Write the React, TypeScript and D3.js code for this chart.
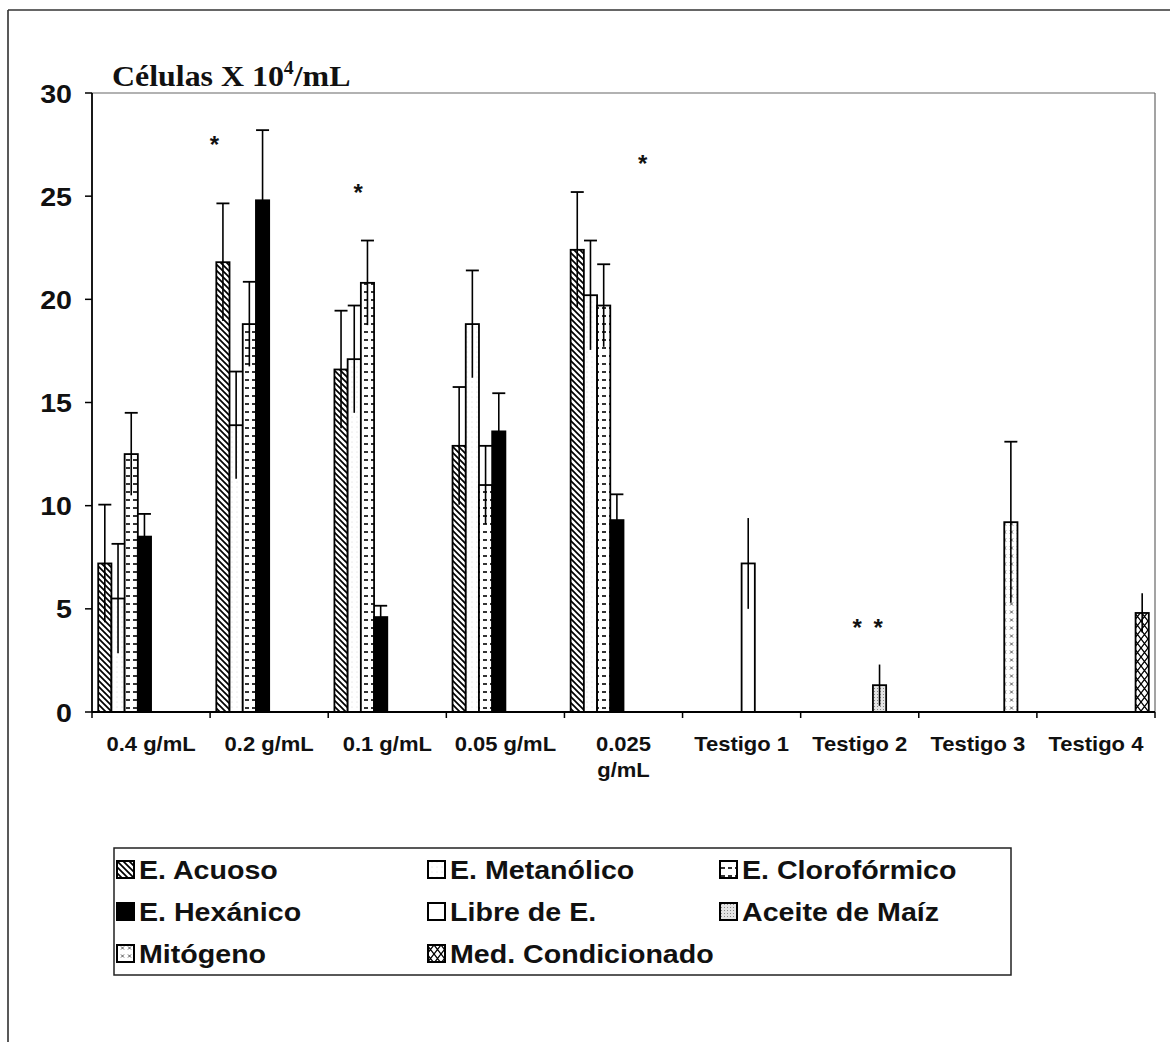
import React from "react";
import * as d3 from "d3";

const categories = [
  "0.4 g/mL",
  "0.2 g/mL",
  "0.1 g/mL",
  "0.05 g/mL",
  "0.025 g/mL",
  "Testigo 1",
  "Testigo 2",
  "Testigo 3",
  "Testigo 4",
];

const seriesNames = [
  "E. Acuoso",
  "E. Metanólico",
  "E. Clorofórmico",
  "E. Hexánico",
  "Libre de E.",
  "Aceite de Maíz",
  "Mitógeno",
  "Med. Condicionado",
];

const N = null;
const acuoso = [7.2, 21.8, 16.6, 12.9, 22.4, N, N, N, N];
const acuosoSD = [2.85, 2.85, 2.85, 2.85, 2.8, N, N, N, N];
const metanolico = [5.5, 13.9, 17.1, 18.8, 20.2, N, N, N, N];
const metanolicoSD = [2.65, 2.6, 2.6, 2.6, 2.65, N, N, N, N];
const cloroformico = [12.5, 18.8, 20.8, 11.0, 19.7, N, N, N, N];
const cloroformicoSD = [2.0, 2.05, 2.05, 1.9, 2.0, N, N, N, N];
const hexanico = [8.5, 24.8, 4.6, 13.6, 9.3, N, N, N, N];
const hexanicoSD = [1.1, 3.4, 0.55, 1.85, 1.25, N, N, N, N];
const libre = [N, N, N, N, N, 7.2, N, N, N];
const libreSD = [N, N, N, N, N, 2.2, N, N, N];
const aceite = [N, N, N, N, N, N, 1.3, N, N];
const aceiteSD = [N, N, N, N, N, N, 1.0, N, N];
const mitogeno = [N, N, N, N, N, N, N, 9.2, N];
const mitogenoSD = [N, N, N, N, N, N, N, 3.9, N];
const medCond = [N, N, N, N, N, N, N, N, 4.8];
const medCondSD = [N, N, N, N, N, N, N, N, 0.95];

const seriesValues = [acuoso, metanolico, cloroformico, hexanico, libre, aceite, mitogeno, medCond];
const seriesSD = [acuosoSD, metanolicoSD, cloroformicoSD, hexanicoSD, libreSD, aceiteSD, mitogenoSD, medCondSD];

const yTicks = [0, 5, 10, 15, 20, 25, 30];

// significance marks: category index, position in series slots, value
const markCats = [1, 2, 4, 6, 6];
const markSlots = [-0.65, 1.3, 4.95, 3.3, 4.9];
const markValues = [27.7, 25.4, 26.8, 4.3, 4.3];

const noCap = new Set(["Libre de E.", "Aceite de Maíz", "Med. Condicionado"]);
const patternIds = ["pAcu", "pMet", "pClo", "pHex", "pLib", "pAce", "pMit", "pMed"];

const SANS = "'Liberation Sans', Arial, sans-serif";
const SERIF = "'Liberation Serif', 'Times New Roman', serif";
const SX = 1.1; // horizontal stretch of the scanned lettering

export default function App() {
  const W = 1175;
  const H = 1042;
  const x0 = 92;
  const x1 = 1155;
  const yTop = 93;
  const yBot = 712;

  const xCat = d3.scaleBand<string>().domain(categories).range([x0, x1]).padding(0);
  const xSub = d3
    .scaleBand<string>()
    .domain(seriesNames)
    .range([0, xCat.bandwidth()])
    .paddingInner(0)
    .paddingOuter(0.47);
  const y = d3.scaleLinear().domain([0, 30]).range([yBot, yTop]);
  const bw = xSub.bandwidth();

  const bars: any[] = [];
  const errs: any[] = [];
  seriesNames.forEach((s, si) => {
    seriesValues[si].forEach((v, ci) => {
      if (v == null) return;
      const bx = (xCat(categories[ci]) as number) + (xSub(s) as number);
      bars.push(
        <rect
          key={`b${si}-${ci}`}
          x={bx}
          y={y(v)}
          width={bw}
          height={y(0) - y(v)}
          fill={si === 3 ? "#000" : `url(#${patternIds[si]})`}
          stroke="#000"
          strokeWidth={1.8}
        />
      );
      const sd = seriesSD[si][ci] as number;
      const cx = bx + bw / 2;
      errs.push(
        <line
          key={`e${si}-${ci}`}
          x1={cx}
          x2={cx}
          y1={y(Math.max(0, v - sd))}
          y2={y(v + sd)}
          stroke="#000"
          strokeWidth={1.6}
        />
      );
      if (!noCap.has(s)) {
        errs.push(
          <line
            key={`c${si}-${ci}`}
            x1={cx - 6.5}
            x2={cx + 6.5}
            y1={y(v + sd)}
            y2={y(v + sd)}
            stroke="#000"
            strokeWidth={1.8}
          />
        );
      }
    });
  });

  const legendCols = [117, 428, 720];
  const legendBase = [879, 921, 963];

  return (
    <svg width={W} height={H} style={{ display: "block", position: "absolute", left: 0, top: 0 }}>
      <defs>
        <pattern id="pAcu" patternUnits="userSpaceOnUse" width={6} height={6}>
          <rect width={6} height={6} fill="#fff" />
          <path d="M0,0 L6,6 M-1,5 L1,7 M5,-1 L7,1" stroke="#000" strokeWidth={1.7} />
        </pattern>
        <pattern id="pMet" patternUnits="userSpaceOnUse" width={5} height={5}>
          <rect width={5} height={5} fill="#fff" />
          <circle cx={2} cy={2} r={0.5} fill="#d0d0d0" />
        </pattern>
        <pattern id="pClo" patternUnits="userSpaceOnUse" width={7} height={8}>
          <rect width={7} height={8} fill="#fff" />
          <path d="M0,4 L4,4" stroke="#000" strokeWidth={1.6} />
        </pattern>
        <pattern id="pLib" patternUnits="userSpaceOnUse" width={4} height={4}>
          <rect width={4} height={4} fill="#fff" />
        </pattern>
        <pattern id="pAce" patternUnits="userSpaceOnUse" width={3} height={3}>
          <rect width={3} height={3} fill="#e4e4e4" />
          <rect x={1} y={1} width={1} height={1} fill="#888" />
        </pattern>
        <pattern id="pMit" patternUnits="userSpaceOnUse" width={7} height={8}>
          <rect width={7} height={8} fill="#fff" />
          <path d="M2,2.5 L5,5.5 M5,2.5 L2,5.5" stroke="#555" strokeWidth={1} />
        </pattern>
        <pattern id="pMed" patternUnits="userSpaceOnUse" width={7} height={9}>
          <rect width={7} height={9} fill="#fff" />
          <path d="M0,0 L7,9 M7,0 L0,9" stroke="#000" strokeWidth={1.3} />
        </pattern>
      </defs>

      <rect x={0} y={0} width={W} height={H} fill="#fff" />
      {/* outer frame */}
      <line x1={8} x2={8} y1={10} y2={H} stroke="#222" strokeWidth={1.5} />
      <line x1={8} x2={1170} y1={10} y2={10} stroke="#333" strokeWidth={1.5} />

      {/* title */}
      <text
        transform={`translate(112,86) scale(${SX},1)`}
        fontFamily={SERIF}
        fontWeight="bold"
        fontSize={29}
        fill="#111"
      >
        Células X 10
        <tspan fontSize={18} dy={-12}>
          4
        </tspan>
        <tspan dy={12}>/mL</tspan>
      </text>

      {/* plot frame */}
      <line x1={x0} x2={x1} y1={yTop} y2={yTop} stroke="#666" strokeWidth={1.2} />
      <line x1={x1} x2={x1} y1={yTop} y2={yBot} stroke="#666" strokeWidth={1.2} />

      {bars}
      {errs}

      {/* axes */}
      <line x1={x0} x2={x0} y1={yTop} y2={yBot} stroke="#000" strokeWidth={1.8} />
      <line x1={x0} x2={x1} y1={yBot} y2={yBot} stroke="#000" strokeWidth={1.8} />
      {yTicks.map((t) => (
        <g key={`yt${t}`}>
          <line x1={x0 - 7} x2={x0} y1={y(t)} y2={y(t)} stroke="#000" strokeWidth={1.5} />
          <text
            transform={`translate(72,${y(t) + 9.5}) scale(${SX},1)`}
            textAnchor="end"
            fontFamily={SANS}
            fontWeight="bold"
            fontSize={26}
            fill="#111"
          >
            {t}
          </text>
        </g>
      ))}
      {categories.map((c, i) => (
        <line
          key={`xt${i}`}
          x1={xCat(c) as number}
          x2={xCat(c) as number}
          y1={yBot}
          y2={yBot + 6}
          stroke="#000"
          strokeWidth={1.5}
        />
      ))}
      <line x1={x1} x2={x1} y1={yBot} y2={yBot + 6} stroke="#000" strokeWidth={1.5} />
      {categories.map((c, i) => {
        const cx = (xCat(c) as number) + xCat.bandwidth() / 2;
        const parts = c === "0.025 g/mL" ? ["0.025", "g/mL"] : [c];
        return (
          <text
            key={`xl${i}`}
            transform={`translate(${cx},751) scale(${SX},1)`}
            textAnchor="middle"
            fontFamily={SANS}
            fontWeight="bold"
            fontSize={20}
            fill="#111"
          >
            {parts.map((p, k) => (
              <tspan key={k} x={0} dy={k === 0 ? 0 : 26}>
                {p}
              </tspan>
            ))}
          </text>
        );
      })}

      {/* significance marks */}
      {markCats.map((ci, k) => {
        const mx =
          (xCat(categories[ci]) as number) +
          (xSub(seriesNames[0]) as number) +
          (markSlots[k] + 0.5) * bw;
        return (
          <text
            key={`m${k}`}
            x={mx}
            y={y(markValues[k]) + 13}
            textAnchor="middle"
            fontFamily={SANS}
            fontWeight="bold"
            fontSize={24}
            fill="#111"
          >
            *
          </text>
        );
      })}

      {/* legend */}
      <rect x={114} y={848} width={897} height={127} fill="none" stroke="#222" strokeWidth={1.5} />
      {seriesNames.map((s, i) => {
        const col = i % 3;
        const row = Math.floor(i / 3);
        const lx = legendCols[col];
        const lb = legendBase[row];
        return (
          <g key={`lg${i}`}>
            <rect
              x={lx}
              y={lb - 18}
              width={17}
              height={17}
              fill={i === 3 ? "#000" : `url(#${patternIds[i]})`}
              stroke="#000"
              strokeWidth={2}
            />
            <text
              transform={`translate(${lx + 22},${lb}) scale(${SX},1)`}
              fontFamily={SANS}
              fontWeight="bold"
              fontSize={26}
              fill="#111"
            >
              {s}
            </text>
          </g>
        );
      })}
    </svg>
  );
}
